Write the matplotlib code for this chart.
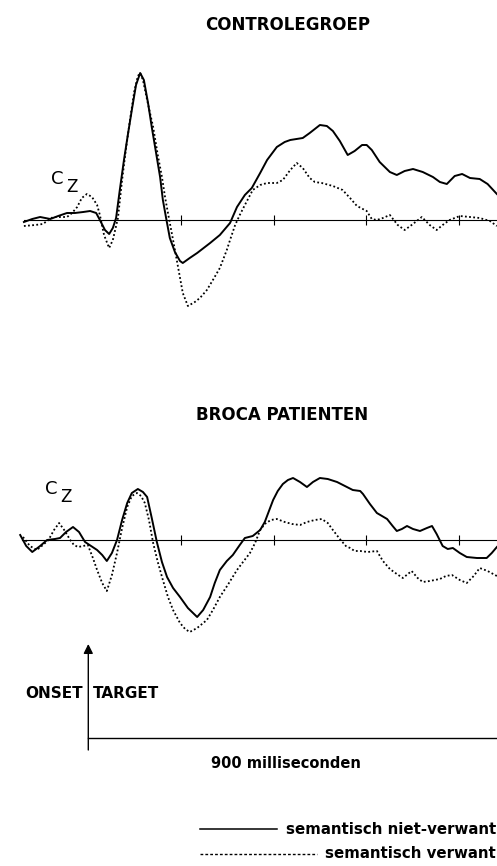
import matplotlib
matplotlib.use('Agg')
import matplotlib.pyplot as plt
from matplotlib.lines import Line2D

# ERP op Cz, tijd in ms t.o.v. onset target, amplitude in (willekeurige) microvolt

# Controlegroep - semantisch niet-verwant (doorgetrokken lijn)
ctrl_t_niet = [-139, -121, -104, -82, -65, -46, -29, -11, 4, 17, 25, 36, 45, 53, 60,
               68, 77, 86, 94, 103, 112, 120, 129, 137, 146, 155, 161, 168, 176, 187,
               198, 204, 219, 235, 263, 284, 306, 321, 338, 353, 371, 386, 407, 424, 436,
               463, 478, 500, 515, 528, 543, 560, 575, 591, 601, 612, 629, 651, 666, 683,
               701, 722, 744, 759, 774, 791, 807, 824, 845, 862, 882]
ctrl_v_niet = [-0.2, 0.1, 0.3, 0.1, 0.4, 0.7, 0.7, 0.8, 0.9, 0.7, 0.0, -1.0, -1.4, -0.8, 0.2,
               3.0, 6.0, 8.7, 11.0, 13.5, 14.7, 14.0, 11.7, 9.3, 6.8, 4.3, 2.0, 0.2, -1.8, -3.2,
               -4.1, -4.3, -3.8, -3.3, -2.3, -1.5, -0.3, 1.3, 2.5, 3.2, 4.7, 6.0, 7.3, 7.8, 8.0,
               8.2, 8.7, 9.5, 9.4, 8.9, 7.9, 6.5, 6.9, 7.5, 7.5, 7.0, 5.8, 4.8, 4.5, 4.9,
               5.1, 4.8, 4.3, 3.8, 3.6, 4.4, 4.6, 4.2, 4.1, 3.6, 2.6]

# Controlegroep - semantisch verwant (stippellijn)
ctrl_t_verw = [-139, -115, -98, -86, -76, -61, -46, -35, -24, -14, -3, 8, 19, 25, 34,
               45, 53, 64, 73, 81, 90, 99, 107, 112, 118, 127, 140, 150, 159, 166,
               174, 183, 191, 204, 215, 230, 241, 256, 269, 284, 299, 306, 317, 327, 338,
               355, 371, 386, 407, 420, 436, 450, 463, 478, 489, 504, 528, 549, 565, 580,
               601, 612, 623, 636, 651, 668, 683, 698, 720, 737, 752, 765, 780, 802, 824,
               845, 867, 882]
ctrl_v_verw = [-0.6, -0.5, -0.4, 0.0, 0.3, 0.3, 0.3, 0.7, 1.3, 2.2, 2.6, 2.3, 1.5, 0.5, -1.5,
               -2.8, -2.0, 0.2, 4.0, 7.0, 10.0, 12.8, 14.4, 14.7, 14.0, 12.0, 9.3, 6.5, 4.3, 2.2,
               0.2, -2.0, -4.0, -7.3, -8.6, -8.2, -7.8, -7.0, -6.0, -4.8, -3.0, -2.0, -0.5, 0.5, 1.5,
               3.0, 3.5, 3.7, 3.7, 4.0, 5.0, 5.7, 5.2, 4.2, 3.8, 3.7, 3.4, 3.0, 2.2, 1.4,
               0.9, 0.1, 0.0, 0.2, 0.5, -0.5, -1.0, -0.5, 0.3, -0.5, -1.0, -0.5, 0.0, 0.4, 0.3,
               0.2, -0.1, -0.6]

# Broca patienten - semantisch niet-verwant
broca_t_niet = [-147, -134, -121, -104, -89, -72, -61, -48, -33, -20, -7, 6, 19, 30, 40,
                51, 62, 73, 84, 94, 107, 118, 127, 137, 148, 159, 170, 183, 198, 215,
                235, 248, 263, 273, 284, 299, 312, 327, 338, 355, 371, 381, 399, 409, 420,
                431, 442, 457, 472, 485, 500, 517, 537, 554, 571, 587, 593, 608, 623, 645,
                657, 666, 677, 688, 701, 716, 731, 742, 752, 765, 776, 787, 802, 817, 839,
                860, 871, 882]
broca_v_niet = [0.5, -0.6, -1.2, -0.6, 0.0, 0.1, 0.2, 0.8, 1.3, 0.8, -0.2, -0.6, -1.0, -1.5, -2.1,
                -1.3, 0.0, 2.0, 3.7, 4.7, 5.1, 4.8, 4.3, 2.2, -0.2, -2.2, -3.7, -4.8, -5.7, -6.8,
                -7.7, -7.0, -5.7, -4.3, -3.0, -2.1, -1.5, -0.5, 0.2, 0.4, 1.0, 1.8, 4.0, 4.9, 5.6,
                6.0, 6.2, 5.8, 5.3, 5.8, 6.2, 6.1, 5.8, 5.4, 5.0, 4.9, 4.6, 3.6, 2.7, 2.1,
                1.4, 0.9, 1.1, 1.4, 1.1, 0.9, 1.2, 1.4, 0.6, -0.6, -0.9, -0.8, -1.3, -1.7, -1.8,
                -1.8, -1.3, -0.7]

# Broca patienten - semantisch verwant
broca_t_verw = [-141, -126, -111, -98, -86, -74, -63, -52, -39, -31, -22, -11, -1, 10, 19,
                30, 40, 51, 62, 73, 84, 94, 105, 114, 122, 131, 140, 150, 161, 172,
                183, 198, 209, 219, 235, 256, 269, 284, 301, 321, 334, 349, 360, 371, 381,
                394, 407, 424, 440, 457, 472, 489, 504, 517, 528, 543, 556, 565, 575, 587,
                603, 623, 636, 651, 666, 679, 690, 698, 711, 722, 737, 759, 772, 785, 802,
                817, 832, 845, 862, 882]
broca_v_verw = [0.3, -0.6, -1.0, -0.5, 0.0, 1.0, 1.7, 1.0, 0.0, -0.5, -0.7, -0.6, -0.5, -1.8, -3.0,
                -4.3, -5.1, -3.5, -1.3, 1.2, 3.3, 4.4, 4.7, 4.4, 3.7, 2.0, -0.3, -2.2, -4.0, -5.7,
                -7.0, -8.3, -8.9, -9.2, -8.8, -8.0, -7.0, -5.7, -4.5, -3.0, -2.2, -1.3, -0.3, 1.0, 1.6,
                2.0, 2.1, 1.8, 1.6, 1.5, 1.8, 2.0, 2.1, 1.7, 1.0, 0.1, -0.6, -0.8, -1.1, -1.1,
                -1.2, -1.1, -2.1, -2.9, -3.4, -3.8, -3.4, -3.1, -3.8, -4.2, -4.1, -3.9, -3.6, -3.5, -4.0,
                -4.3, -3.6, -2.8, -3.1, -3.6]

tick_ms = [200, 400, 600, 800]
titels = ['CONTROLEGROEP', 'BROCA PATIENTEN']
legenda = ['semantisch niet-verwant', 'semantisch verwant']

W, H = 497, 866
fig = plt.figure(figsize=(W / 100, H / 100), dpi=100)
plt.rcParams['font.family'] = 'DejaVu Sans'

xlim = (-190.6, 882.3)
stip = (0, (1, 1.3))


def paneel(rect, ylim, t1, v1, t2, v2, start):
    ax = fig.add_axes(rect)
    ax.set_xlim(*xlim)
    ax.set_ylim(*ylim)
    ax.patch.set_visible(False)
    for s in ['top', 'left', 'right']:
        ax.spines[s].set_visible(False)
    # nullijn met tijdstreepjes
    ax.spines['bottom'].set_position(('data', 0))
    ax.spines['bottom'].set_bounds(start, xlim[1])
    ax.spines['bottom'].set_linewidth(0.8)
    ax.set_xticks(tick_ms)
    ax.set_xticklabels([])
    ax.tick_params(axis='x', direction='inout', length=7, width=0.8)
    ax.set_yticks([])
    ax.plot(t1, v1, color='black', lw=1.4, solid_joinstyle='round')
    ax.plot(t2, v2, color='black', lw=1.3, linestyle=stip)
    return ax


def pix(y0, y1):
    return [0, (H - y1) / H, 1, (y1 - y0) / H]


ax1 = paneel(pix(40, 330), (-11, 18), ctrl_t_niet, ctrl_v_niet, ctrl_t_verw, ctrl_v_verw, -139)
ax1.text(-67, 4.1, 'C', fontsize=13, ha='center', va='center')
ax1.text(-35, 3.3, 'Z', fontsize=12, ha='center', va='center')

ax2 = paneel(pix(460, 650), (-11, 8), broca_t_niet, broca_v_niet, broca_t_verw, broca_v_verw, -144)
ax2.text(-80, 5.1, 'C', fontsize=13, ha='center', va='center')
ax2.text(-48, 4.3, 'Z', fontsize=12, ha='center', va='center')

# titels
fig.text(288 / W, 1 - 25 / H, titels[0], fontsize=12, fontweight='bold', ha='center', va='center')
fig.text(282 / W, 1 - 415 / H, titels[1], fontsize=12, fontweight='bold', ha='center', va='center')

# onset pijl en tijdas
ax3 = fig.add_axes(pix(640, 780))
ax3.set_xlim(*xlim)
ax3.set_ylim(-4.2, 9.8)
ax3.axis('off')
ax3.annotate('', xy=(0, 9.4), xytext=(0, -1.2),
             arrowprops=dict(arrowstyle='-|>', lw=1.0, color='black', mutation_scale=14,
                             shrinkA=0, shrinkB=0))
ax3.plot([0, 900], [0, 0], color='black', lw=1.0)
ax3.text(-12, 4.4, 'ONSET', fontsize=11, fontweight='bold', ha='right', va='center')
ax3.text(10, 4.4, 'TARGET', fontsize=11, fontweight='bold', ha='left', va='center')
ax3.text(427, -2.5, '900 milliseconden', fontsize=10.5, fontweight='bold', ha='center', va='center')

# legenda
fig.add_artist(Line2D([200 / W, 277 / W], [1 - 829 / H] * 2, color='black', lw=1.1))
fig.add_artist(Line2D([200 / W, 317 / W], [1 - 854 / H] * 2, color='black', lw=1.0,
                      linestyle=(0, (2, 1.5))))
fig.text(496 / W, 1 - 829 / H, legenda[0], fontsize=10.8, fontweight='bold', ha='right', va='center')
fig.text(496 / W, 1 - 854 / H, legenda[1], fontsize=10.8, fontweight='bold', ha='right', va='center')

plt.savefig('out.png', dpi=100)
